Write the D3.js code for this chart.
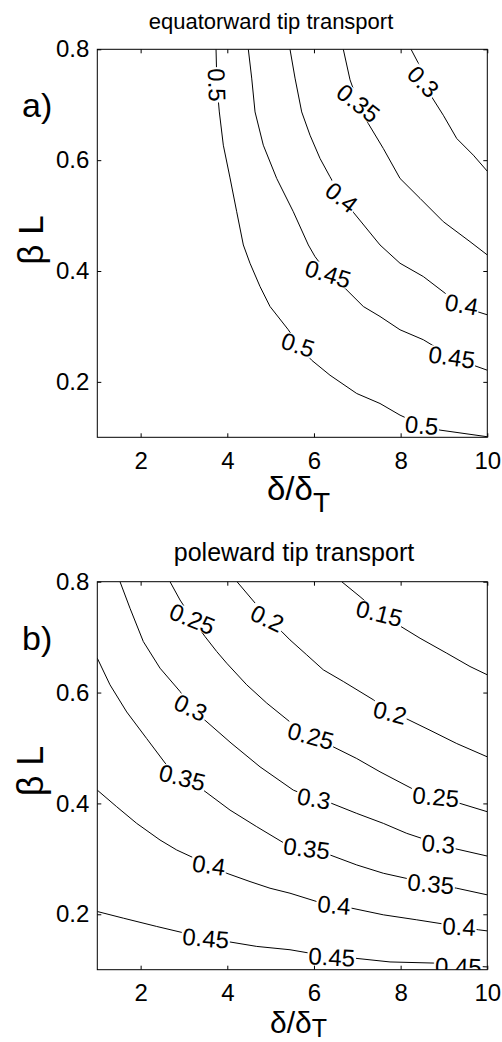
<!DOCTYPE html>
<html><head><meta charset="utf-8">
<script src="https://cdn.jsdelivr.net/npm/d3@7"></script>
<style>body{margin:0;background:#fff}svg{display:block}</style>
</head><body>
<svg id="c" width="502" height="1042"></svg>
<script>
// ---------- data ----------
const xTicks = [2, 4, 6, 8, 10];
const yTicks = [0.2, 0.4, 0.6, 0.8];
const xDomain = [1, 10];
const yDomain = [0.1, 0.8];
const titles = ["equatorward tip transport", "poleward tip transport"];
const panelTags = ["a)", "b)"];

// Panel a: equatorward tip transport, contour polylines [δ/δT, βL]
const eqLevels = [0.5, 0.45, 0.4, 0.35, 0.3];
const eq050 = [[3.74,0.8],[3.76,0.736],[3.816,0.687],[3.908,0.627],[4.063,0.568],[4.217,0.507],[4.37,0.447],[4.524,0.414],[4.755,0.372],[4.986,0.336],[5.408,0.294],[5.632,0.267],[5.948,0.239],[6.37,0.212],[6.987,0.179],[7.524,0.161],[7.986,0.14],[8.487,0.122],[8.909,0.113],[10,0.101]];
const eq045 = [[4.485,0.8],[4.563,0.748],[4.64,0.687],[4.831,0.627],[5.14,0.567],[5.523,0.507],[5.87,0.447],[6.024,0.426],[6.324,0.395],[6.677,0.372],[7.139,0.336],[7.524,0.318],[7.986,0.294],[8.524,0.276],[9.179,0.245],[9.678,0.23],[10,0.221]];
const eq040 = [[5.447,0.8],[5.563,0.748],[5.717,0.687],[5.909,0.645],[6.14,0.603],[6.37,0.57],[6.64,0.533],[6.908,0.506],[7.524,0.447],[7.986,0.414],[8.524,0.39],[9.025,0.36],[9.41,0.34],[9.756,0.327],[10,0.321]];
const eq035 = [[6.677,0.8],[6.832,0.745],[7.024,0.703],[7.254,0.666],[7.601,0.621],[7.986,0.567],[8.448,0.531],[8.985,0.489],[9.601,0.453],[10,0.429]];
const eq030 = [[8.24,0.8],[8.408,0.775],[8.524,0.742],[8.718,0.714],[8.985,0.681],[9.295,0.639],[9.678,0.609],[10,0.58]];
const eqLines = [eq050, eq045, eq040, eq035, eq030];
// labels: [level, δ/δT, βL]
const eqLabels = [[0.5,3.76,0.736],[0.5,5.632,0.267],[0.5,8.487,0.122],[0.45,6.324,0.395],[0.45,9.179,0.245],[0.4,6.64,0.533],[0.4,9.41,0.34],[0.35,7.024,0.703],[0.3,8.524,0.742]];
const eqLabelAngles = [88, 18, 5, 17, 8, 38, 10, 38, 45];

// Panel b: poleward tip transport
const poLevels = [0.15, 0.2, 0.25, 0.3, 0.35, 0.4, 0.45];
const po015 = [[6.64,0.8],[7.063,0.773],[7.508,0.743],[7.947,0.722],[8.448,0.698],[9.064,0.671],[9.601,0.647],[10,0.632]];
const po020 = [[4.224,0.8],[4.679,0.758],[4.923,0.734],[5.256,0.71],[5.447,0.695],[5.833,0.668],[6.216,0.641],[6.677,0.62],[7.37,0.587],[7.755,0.564],[8.101,0.554],[8.678,0.532],[9.295,0.508],[10,0.484]];
const po025 = [[2.678,0.8],[2.909,0.767],[3.193,0.733],[3.486,0.701],[3.756,0.674],[3.986,0.653],[4.448,0.614],[4.91,0.581],[5.447,0.547],[5.925,0.522],[6.447,0.502],[6.987,0.481],[7.524,0.457],[8.256,0.427],[8.81,0.412],[9.371,0.4],[10,0.385]];
const po030 = [[1.524,0.8],[1.755,0.752],[2.062,0.692],[2.447,0.644],[2.909,0.602],[3.156,0.573],[3.486,0.55],[4.086,0.509],[4.755,0.466],[5.523,0.424],[6.001,0.409],[6.41,0.4],[6.987,0.382],[7.601,0.364],[8.141,0.346],[8.87,0.327],[9.216,0.319],[10,0.305]];
const po035 = [[1,0.662],[1.293,0.614],[1.679,0.565],[2.14,0.517],[2.602,0.469],[2.962,0.447],[3.446,0.424],[4.063,0.388],[4.679,0.358],[5.447,0.322],[5.833,0.319],[6.37,0.307],[6.987,0.289],[7.601,0.274],[8.695,0.255],[9.295,0.247],[10,0.235]];
const po040 = [[1,0.424],[1.448,0.394],[1.909,0.364],[2.447,0.334],[2.832,0.316],[3.578,0.289],[3.986,0.274],[4.524,0.259],[4.986,0.247],[5.447,0.238],[6.063,0.223],[6.463,0.217],[6.871,0.211],[7.601,0.199],[8.372,0.19],[9.348,0.178],[9.793,0.172],[10,0.17]];
const po045 = [[1,0.205],[1.6,0.193],[2.371,0.178],[3.502,0.157],[4.063,0.15],[4.679,0.142],[5.447,0.136],[6.41,0.123],[6.908,0.121],[7.755,0.114],[8.755,0.112],[9.332,0.108],[10,0.105]];
const poLines = [po015, po020, po025, po030, po035, po040, po045];
const poLabels = [[0.25,3.193,0.733],[0.2,4.923,0.734],[0.15,7.508,0.743],[0.3,3.156,0.573],[0.25,5.925,0.522],[0.2,7.755,0.564],[0.35,2.962,0.447],[0.3,6.001,0.409],[0.25,8.81,0.412],[0.35,5.833,0.319],[0.3,8.87,0.327],[0.4,3.578,0.289],[0.35,8.695,0.255],[0.4,6.463,0.217],[0.4,9.348,0.178],[0.45,3.502,0.157],[0.45,6.41,0.123],[0.45,9.332,0.106]];
const poLabelAngles = [22, 25, 14, 25, 15, 14, 14, 10, 5, 7, 5, 8, 5, 5, 3, 5, 3, 2];

// ---------- drawing ----------
const svg = d3.select("#c");
const FONT = "'Liberation Sans', Arial, Helvetica, sans-serif";
const L = 97.3, R = 487.3, H = 388;
const panels = [
  {top: 49.3, lines: eqLines, labels: eqLabels, angles: eqLabelAngles, title: titles[0], tag: panelTags[0],
   titleX: 271, titleY: 28.5, titleSize: 22, tagY: 117, ylabY: 240, ylabSize: 35,
   tickPad: 15, xlabY: 500, xlabDy: 12, xlabSize: 33, subSize: 28},
  {top: 581.7, lines: poLines, labels: poLabels, angles: poLabelAngles, title: titles[1], tag: panelTags[1],
   titleX: 294, titleY: 561, titleSize: 25, tagY: 650, ylabY: 771, ylabSize: 36,
   tickPad: 14, xlabY: 1033, xlabDy: 3.5, xlabSize: 30, subSize: 25}
];

panels.forEach((p, i) => {
  const x = d3.scaleLinear().domain(xDomain).range([L, R]);
  const y = d3.scaleLinear().domain(yDomain).range([p.top + H, p.top]);
  const g = svg.append("g");

  const clipId = "clip" + i;
  svg.append("clipPath").attr("id", clipId).append("rect")
    .attr("x", L).attr("y", p.top).attr("width", R - L).attr("height", H);

  const plot = g.append("g").attr("clip-path", `url(#${clipId})`);
  const line = d3.line().x(d => x(d[0])).y(d => y(d[1]));
  plot.selectAll("path.contour").data(p.lines).join("path")
    .attr("class", "contour").attr("d", line)
    .attr("fill", "none").attr("stroke", "#000").attr("stroke-width", 1);

  const lab = plot.selectAll("g.lab").data(p.labels).join("g")
    .attr("class", "lab")
    .attr("transform", (d, k) => `translate(${x(d[1])},${y(d[2])}) rotate(${p.angles[k]})`);
  lab.append("rect").attr("fill", "#fff");
  const texts = lab.append("text").text(d => String(d[0]))
    .attr("text-anchor", "middle").attr("dy", "0.36em")
    .attr("font-family", FONT).attr("font-size", 24).attr("fill", "#000");
  texts.each(function () {
    const w = this.getComputedTextLength();
    d3.select(this.previousSibling).attr("x", -w / 2 - 1).attr("y", -9).attr("width", w + 2).attr("height", 18);
  });

  // axes (ticks inward)
  const ax = g.append("g").attr("transform", `translate(0,${p.top + H})`)
    .call(d3.axisBottom(x).tickValues(xTicks).tickSize(-4).tickSizeOuter(0).tickPadding(p.tickPad).tickFormat(d3.format("d")));
  const ay = g.append("g").attr("transform", `translate(${L},0)`)
    .call(d3.axisLeft(y).tickValues(yTicks).tickSize(-4).tickSizeOuter(0).tickPadding(8).tickFormat(d3.format(".1f")));
  const at = g.append("g").attr("transform", `translate(0,${p.top})`)
    .call(d3.axisTop(x).tickValues(xTicks).tickSize(-4).tickSizeOuter(0).tickFormat(""));
  const ar = g.append("g").attr("transform", `translate(${R},0)`)
    .call(d3.axisRight(y).tickValues(yTicks).tickSize(-4).tickSizeOuter(0).tickFormat(""));
  [ax, ay, at, ar].forEach(a => {
    a.select(".domain").remove();
    a.selectAll("line").attr("stroke", "#000");
    a.selectAll("text").attr("font-family", FONT).attr("font-size", 24).attr("fill", "#000");
  });

  g.append("rect").attr("x", L).attr("y", p.top).attr("width", R - L).attr("height", H)
    .attr("fill", "none").attr("stroke", "#000").attr("stroke-width", 1);

  // titles and labels
  g.append("text").attr("x", p.titleX).attr("y", p.titleY).attr("text-anchor", "middle")
    .attr("font-family", FONT).attr("font-size", p.titleSize).text(p.title);
  g.append("text").attr("x", 22).attr("y", p.tagY)
    .attr("font-family", FONT).attr("font-size", 34).text(p.tag);
  g.append("text").attr("transform", `translate(43,${p.ylabY}) rotate(-90)`).attr("text-anchor", "middle")
    .attr("font-family", FONT).attr("font-size", p.ylabSize).text("β L");
  const xl = g.append("text").attr("x", 298.5).attr("y", p.xlabY).attr("text-anchor", "middle")
    .attr("font-family", FONT).attr("font-size", p.xlabSize);
  xl.append("tspan").text("δ/δ");
  xl.append("tspan").attr("dy", p.xlabDy).attr("font-size", p.subSize).text("T");
});
</script>
</body></html>
